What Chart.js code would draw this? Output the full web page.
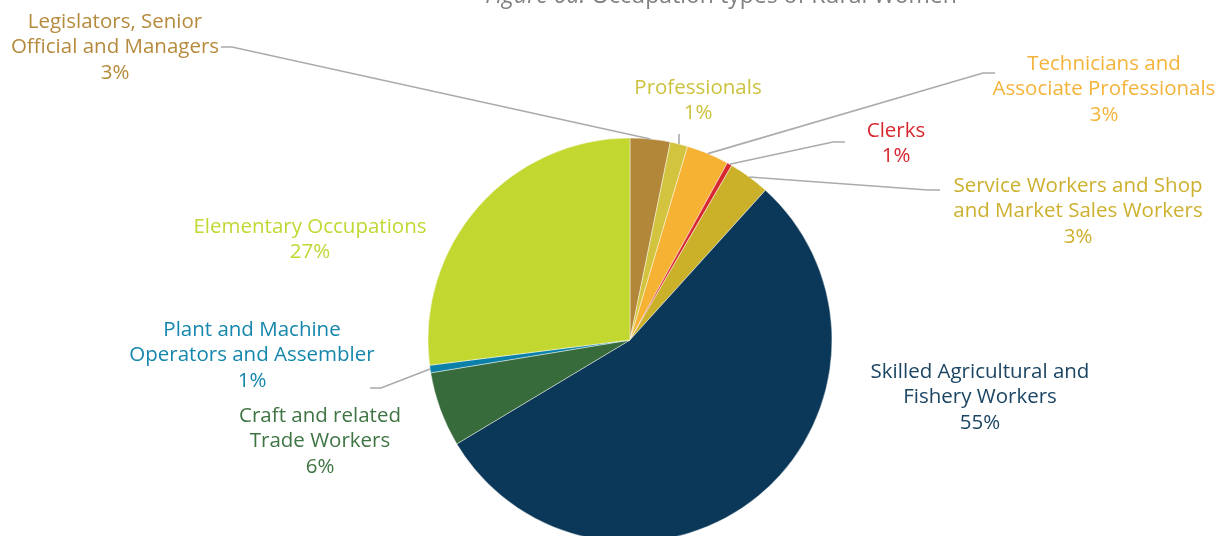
<!DOCTYPE html>
<html>
<head>
<meta charset="utf-8">
<script src="https://cdn.jsdelivr.net/npm/chart.js@4"></script>
<style>
  html, body { margin: 0; padding: 0; background: #fff; }
  #wrap { width: 1216px; height: 536px; }
</style>
</head>
<body>
<div id="wrap"><canvas id="myChart" width="1216" height="536"></canvas></div>
<script>
// data (share of rural women, %)
let categories = [
    'Legislators, Senior Official and Managers',
    'Professionals',
    'Technicians and Associate Professionals',
    'Clerks',
    'Service Workers and Shop and Market Sales Workers',
    'Skilled Agricultural and Fishery Workers',
    'Craft and related Trade Workers',
    'Plant and Machine Operators and Assembler',
    'Elementary Occupations'
]
let shares = [3.2, 1.4, 3.4, 0.4, 3.3, 54.7, 6.0, 0.6, 27.0]
let shownPct = ['3%', '1%', '3%', '1%', '3%', '55%', '6%', '1%', '27%']

let sliceColors = ['#B3873A', '#D2C43E', '#F5B233', '#D7282F', '#CBB02A', '#0B3858', '#376B3B', '#0B80A8', '#C3D731']
let textColors = ['#B58A3C', '#CDC23E', '#F4B33A', '#D7282F', '#CDB02E', '#1B4563', '#3F7443', '#1586AC', '#C3D732']

// how each label is broken in lines
let labelLines = [
    ['Legislators, Senior', 'Official and Managers'],
    ['Professionals'],
    ['Technicians and', 'Associate Professionals'],
    ['Clerks'],
    ['Service Workers and Shop', 'and Market Sales Workers'],
    ['Skilled Agricultural and', 'Fishery Workers'],
    ['Craft and related', 'Trade Workers'],
    ['Plant and Machine', 'Operators and Assembler'],
    ['Elementary Occupations']
]

// label placement: centre x, first line y
let labelPos = [
    [115, 22], [698, 88], [1104, 64], [896, 131], [1078, 186],
    [980, 372], [320, 416], [252, 330], [310, 227]
]
// leader lines: elbow point and end point (null = no leader)
let leaders = [
    [[232, 47], [221, 47]],
    [[680, 134], [680, 134]],
    [[983, 73], [995, 73]],
    [[833, 142], [845, 142]],
    [[928, 190], [940, 190]],
    null,
    null,
    [[381, 388], [370, 388]],
    null
]

let lineH = 25.5
let fontFam = '"Open Sans", Lato, sans-serif'

let labelPlugin = {
    id: 'pieLabels',
    afterDraw(chart) {
        let c = chart.ctx
        let arcs = chart.getDatasetMeta(0).data
        c.save()

        // leader lines from slice rim (mid angle)
        c.strokeStyle = '#ABABAB'
        c.lineWidth = 1.6
        arcs.forEach((arc, i) => {
            if (!leaders[i]) return
            let mid = (arc.startAngle + arc.endAngle) / 2
            let sx = arc.x + Math.cos(mid) * arc.outerRadius
            let sy = arc.y + Math.sin(mid) * arc.outerRadius
            let [elbow, end] = leaders[i]
            if (i == 1) elbow = [sx, elbow[1]], end = elbow
            c.beginPath()
            c.moveTo(sx, sy)
            c.lineTo(elbow[0], elbow[1])
            c.lineTo(end[0], end[1])
            c.stroke()
        })

        // labels
        c.font = '400 20.5px ' + fontFam
        c.textAlign = 'center'
        c.textBaseline = 'middle'
        labelLines.forEach((lines, i) => {
            let [x, y] = labelPos[i]
            c.fillStyle = textColors[i]
            lines.concat([shownPct[i]]).forEach((t, k) => {
                c.fillText(t, x, y + k * lineH)
            })
        })

        // title, cut off by the top edge
        c.fillStyle = '#808080'
        c.textBaseline = 'alphabetic'
        c.textAlign = 'left'
        let t1 = 'Figure 6a: '
        let t2 = 'Occupation types of Rural Women'
        c.font = 'italic 400 23px ' + fontFam
        let w1 = c.measureText(t1).width
        c.font = '400 23px ' + fontFam
        let w2 = c.measureText(t2).width
        let x0 = 721 - (w1 + w2) / 2
        c.font = 'italic 400 23px ' + fontFam
        c.fillText(t1, x0, 3)
        c.font = '400 23px ' + fontFam
        c.fillText(t2, x0 + w1, 3)
        c.restore()
    }
}

let ctx = document.getElementById('myChart')

new Chart(ctx, {
    type: 'pie',
    data: {
        labels: categories,
        datasets: [{
            data: shares,
            backgroundColor: sliceColors,
            borderColor: 'rgba(255,255,255,0.55)',
            borderWidth: 0.8
        }]
    },
    options: {
        responsive: false,
        animation: false,
        radius: 202,
        layout: { padding: { left: 44, right: 0, top: 144, bottom: 0 } },
        plugins: {
            legend: { display: false },
            tooltip: { enabled: false }
        }
    },
    plugins: [labelPlugin]
});
</script>
</body>
</html>
